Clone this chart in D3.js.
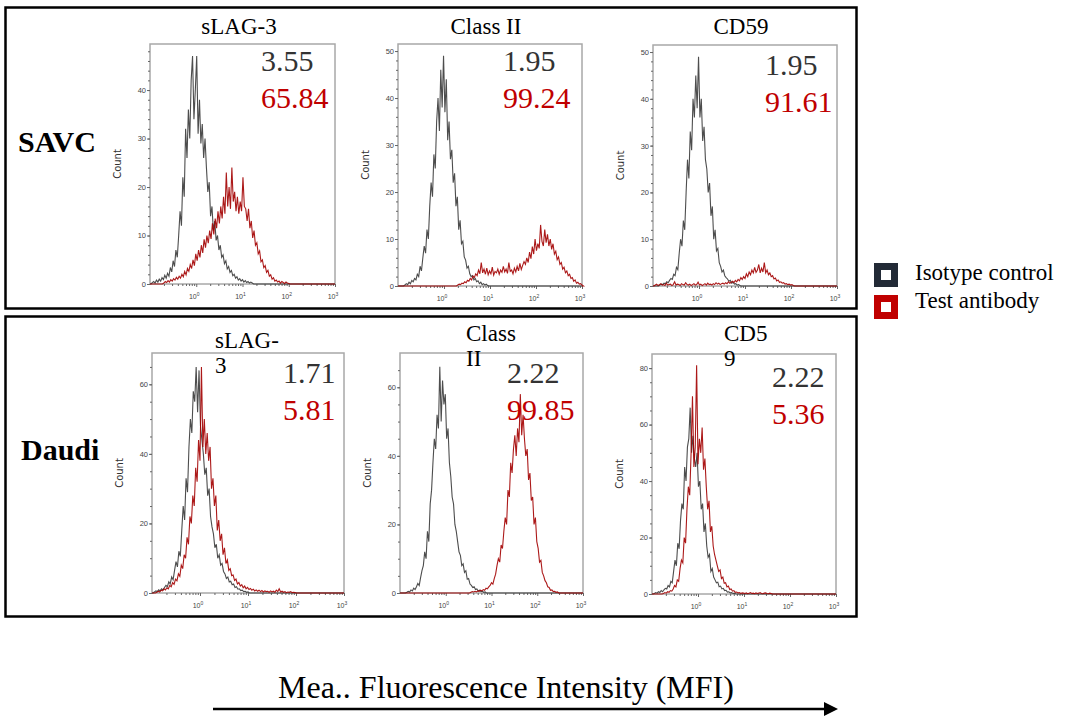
<!DOCTYPE html>
<html lang="en">
<head>
<meta charset="UTF-8">
<title>Flow cytometry histograms</title>
<script src="https://d3js.org/d3.v7.min.js"></script>
<style>
  body, html { margin: 0; padding: 0; background: #fff; overflow: hidden; }
  svg { display: block; }
  .serif { font-family: "Liberation Serif", "Times New Roman", serif; }
  .tick text { font-family: "Liberation Sans", Arial, sans-serif; font-size: 7.5px; fill: #444; }
  .tick line { stroke: #666; }
  .domain { display: none; }
</style>
</head>
<body>
<svg id="chart" width="1066" height="719"></svg>
<script>
// ---- data ----
const cellLines = ["SAVC", "Daudi"];
const markers = ["sLAG-3", "Class II", "CD59"];
const isoValues = ["3.55", "1.95", "1.95", "1.71", "2.22", "2.22"];
const testValues = ["65.84", "99.24", "91.61", "5.81", "99.85", "5.36"];
const legendLabels = ["Isotype control", "Test antibody"];
const xTickExps = [0, 1, 2, 3];
const yMax = [49.5, 51.5, 51.5, 69, 70, 85];
const yMajorStep = [10, 10, 10, 20, 20, 20];
const yMinorStep = [2, 2, 2, 5, 5, 5];

// channel width in decades of fluorescence (log10)
const STEP = 0.03;
// first channel (log10 MFI) of each histogram
const isoStart = [-0.95, -0.85, -0.85, -0.95, -0.85, -0.95];
const testStart = [-0.70, 0.30, -0.95, -0.90, 0.55, -0.75];

const isoCounts = [
  [0.3,0.5,0.2,0.8,0.4,1.0,0.6,1.3,0.9,1.8,1.2, 2.2,1.6,3.4,2.5,4.8,3.6,7.0,5.5, 10,15,12,22,18,
   32,26,36,30,42, 47,34,40,47,31, 38,29,33,26,30, 24,19,21,14,16, 11,13,9,10,7, 8,5.5,6,4.2,4.8,
   3.1,3.6,2.4,2.8,1.7, 2.0,1.2,1.5,0.8,1.1, 0.6,0.9,0.4,0.7,0.3,0.5,0.2,0.4,0.2],
  [0.2,0.5,0.3,0.8,0.5,1.2,0.9, 1.6,1.3,2.5,2.0,4.2,3.2,6.0, 8.5,7.0,12,10,17, 22,19,28,25,35,
   40,33,46,38,49, 37,44,31,35,27, 29,22,24,17,19, 12,14,9,9.5,6.2, 5.5,3.8,4.2,2.6,2.0,
   2.2,1.3,1.6,0.9,1.1, 0.5,0.8,0.3,0.5,0.2,0.4,0.1],
  [0.2,0.4,0.3,0.6,0.5,0.9,0.7, 1.2,1.6,1.4,2.5,2.2,4.0,3.5, 7.0,10,8.5,14,12, 20,27,23,33,29,
   40,36,45,38,49, 36,40,31,34,27, 25,20,22,15,17, 10,12,7.5,8,5, 4.2,3,3.4,2.2,1.8,
   1.5,1.0,1.2,0.6,0.8, 0.4,0.5,0.2,0.3,0.1],
  [0.3,0.6,0.4,0.9,0.6,1.2,0.9, 1.6,2.2,1.8,3.2,2.6,4.6,3.8, 6.5,9.0,7.5,12,10.5, 18,25,21,33,29,
   42,50,46,58,55, 65,52,64,48,44, 40,34,36,28,30, 22,19,17,13,14, 10,11,8,8.5,6.2,
   5.5,4.2,4.6,3.2,3.4, 2.4,2.6,1.6,1.8,1.1, 1.2,0.7,0.8,0.4,0.5,0.2,0.3],
  [0.2,0.5,0.3,0.9,0.6,1.4,1.0, 1.8,2.8,2.2,4.5,6.5, 8,12,10,18,15, 26,30,38,45,42,
   52,48,66,50,62, 55,58,45,48,38, 34,28,26,20,18, 15,12,11,8,8.5, 6,6.5,4,4.2,2.6,
   2.2,1.6,1.8,1.0,1.2, 0.6,0.8,0.4,0.5,0.2,0.3],
  [0.2,0.5,0.3,0.8,0.5,1.2,0.8, 1.5,2.0,1.8,3.0,2.5,4.5,4.0, 8,12,10,18,16, 26,32,30,45,40,
   52,55,66,50,56, 48,45,50,38,40, 30,32,22,25,17, 13,14,8,9,6, 5,4,4.2,2.6,2.8,
   1.8,2,1.2,1.3,0.7, 0.8,0.4,0.5,0.2,0.3,0.1]
];

const testCounts = [
  [0.2,0.5,0.3,0.7,0.4,0.9,0.6,1.1,0.8,1.4,1.0, 1.6,1.2,2.0,1.5,2.6,1.9,3.2, 2.6,4.0,3.2,5.0,3.8,6.2,4.8,
   7.0,5.5,8.0,6.4,9.2,7.5,10, 8.4,11,9.3,12.5,10.2,13.5,11.5, 15,12.5,16,13.5,18,14.5,23,
   16,20,15.5,24,17,19,15, 18,14.5,17,15,22,16,15.5, 13,15.5,11.5,13,9.5,11,8,
   8.5,6.2,6.8,4.6,5.0,3.4,3.8, 2.4,2.8,1.6,1.9,1.0,1.3,0.6, 0.8,0.4,0.6,0.2,0.5,0.3,0.1,0.4,0.2,0.1],
  [0.2,0.4,0.3,0.6,0.5,0.9,0.7, 1.2,1.0,1.6,1.3,2.1,1.8,2.6, 2.2,3.4,2.6,5.0,2.8,3.6,2.5,
   3.8,2.4,3.2,2.6,4.0,2.3,3.1, 2.8,3.6,2.5,3.4,2.9,4.2,3.0, 3.6,2.7,5.0,3.1,3.4,2.6,3.8,
   3.0,4.2,3.2,4.8,3.5,4.4,5.2, 4.6,6.0,5.0,7.2,5.8,8.4,6.8, 10,7.5,9.0,8.0,13,9.5,8.5,
   12,9.2,11,8.5,10,7.8,9.0, 6.8,7.4,5.6,6.2,4.6,5.0,3.6, 4.0,2.8,3.2,2.2,2.5,1.6,1.8,
   1.0,1.3,0.6,0.8,0.4,0.5,0.2],
  [0.2,0.4,0.1,0.3,0.5,0.2,0.3,0.1,0.6,0.2,0.3,0.4,0.1,0.3,0.9,0.2,0.4,0.3,0.1,0.5,0.3,0.2,0.7,0.3,0.2,
   0.4,0.1,0.3,0.5,0.2,0.3,0.8,0.2,0.4,0.1,0.3,0.5,0.2,0.6,0.3,0.4,0.2,0.5,0.3,0.7,0.4,0.6,0.3,0.5,0.6,
   0.4,0.7,0.5,0.9,0.6,0.8,1.0, 0.7,1.2,0.9,1.4,1.1,1.8,1.4, 2.0,1.6,2.6,2.0,3.0,2.4,3.4,
   2.8,4.0,2.9,3.4,4.6,2.8,3.8, 3.0,5.0,2.8,3.4,2.4,2.8,2.0, 2.2,1.5,1.7,1.1,1.3,0.8,0.9,
   0.6,0.7,0.4,0.5,0.3,0.4,0.2,0.3,0.1],
  [0.2,0.5,0.3,0.8,0.6,1.2,0.9, 1.5,1.2,2.2,1.8,3.0,2.5,4.0, 3.5,5.5,4.8,8.0,7.0, 11,10,16,14,22,
   20,28,25,36,32, 44,38,65,42,50, 40,46,38,42,30, 33,25,28,18,21, 15,17,11,13,8.5,
   9.5,6.5,7,5,5.2, 3.6,4.0,2.6,3.0,2.0, 2.4,1.5,2.0,1.2,1.6,1.0,1.3, 0.8,1.1,0.6,0.9,0.5,0.8,0.4,
   0.7,0.3,0.6,0.4,0.5,0.2,0.6, 0.3,0.5,0.2,0.8,0.4,1.2,0.3, 0.5,0.2,0.4,0.1,0.3,0.2,0.4,0.1,0.2,0.1],
  [0.2,0.4,0.3,0.5,0.3,0.6,0.5, 0.8,0.6,1.0,0.8,1.4,1.2,1.8, 2.2,3.0,2.6,4.2,5.5, 8,10,9,14,13,
   18,22,20,30,28, 38,35,42,46,40, 48,44,58,46,52, 45,40,42,33,35, 27,28,20,22,15,
   13,9,9.5,6,5, 3.6,3,1.8,1.6,0.8, 0.9,0.4,0.5,0.2,0.3],
  [0.2,0.5,0.3,0.8,0.6,1.2,1.0, 1.8,3,2.5,5,4.5, 9,12,11,20,18, 30,38,35,50,70,
   45,52,81,46,55, 50,59,44,48,38, 30,33,22,24,17, 14,12,10,8,8.5, 5.5,6,3.8,4,2.5,
   2.8,1.6,1.8,1,1.2, 0.6,0.7,0.4,0.5,0.2,0.4,0.3,
   0.2,0.4,0.1,0.3,0.5,0.2,0.3,0.1,0.4,0.2,0.3,0.5,0.2,0.1,0.3,0.4,0.2,0.1,0.3,0.2]
];

// ---- layout ----
const panels = [
  { x0: 150, x1: 335, y0: 44, y1: 284 },
  { x0: 398, x1: 582, y0: 44, y1: 286 },
  { x0: 653, x1: 837, y0: 45, y1: 286 },
  { x0: 152, x1: 344, y0: 353, y1: 593 },
  { x0: 400, x1: 583, y0: 353, y1: 593 },
  { x0: 652, x1: 836, y0: 354, y1: 594 }
];
const numPos = [[261, 71], [503, 71], [765, 75], [283, 383], [507, 383], [772, 387]];
const GRAY = "#3a3a3a", RED = "#a30000";
const SERIF = "'Liberation Serif', 'Times New Roman', serif";

const svg = d3.select("#chart");

// outer boxes
svg.append("rect").attr("x", 5.5).attr("y", 7.5).attr("width", 851).attr("height", 301)
  .attr("fill", "none").attr("stroke", "#000").attr("stroke-width", 2.5);
svg.append("rect").attr("x", 5.5).attr("y", 316.5).attr("width", 851).attr("height", 300)
  .attr("fill", "none").attr("stroke", "#000").attr("stroke-width", 2.5);

function histPoints(start, counts) {
  const pts = [[0.1, 0], [Math.pow(10, start - STEP), 0]];
  counts.forEach((c, i) => pts.push([Math.pow(10, start + i * STEP), c]));
  pts.push([Math.pow(10, start + counts.length * STEP), 0], [1000, 0]);
  return pts;
}

panels.forEach((p, i) => {
  const g = svg.append("g");
  const x = d3.scaleLog().domain([0.1, 1000]).range([p.x0, p.x1]);
  const y = d3.scaleLinear().domain([0, yMax[i]]).range([p.y1, p.y0]);

  // frame
  g.append("rect").attr("x", p.x0).attr("y", p.y0)
    .attr("width", p.x1 - p.x0).attr("height", p.y1 - p.y0)
    .attr("fill", "none").attr("stroke", "#a8a8a8").attr("stroke-width", 1.5);

  // y axis: minor + major ticks
  g.append("g").attr("transform", `translate(${p.x0},0)`)
    .call(d3.axisLeft(y).tickValues(d3.range(0, yMax[i], yMinorStep[i])).tickSize(2).tickFormat(""));
  g.append("g").attr("transform", `translate(${p.x0},0)`)
    .call(d3.axisLeft(y).tickValues(d3.range(0, yMax[i], yMajorStep[i])).tickSize(3).tickPadding(1));

  // x axis: log minor + decades
  const minor = [];
  [-1, 0, 1, 2].forEach(e => d3.range(2, 10).forEach(m => minor.push(m * Math.pow(10, e))));
  g.append("g").attr("transform", `translate(0,${p.y1})`)
    .call(d3.axisBottom(x).tickValues(minor).tickSize(2).tickFormat(""));
  g.append("g").attr("transform", `translate(0,${p.y1})`)
    .call(d3.axisBottom(x).tickValues(xTickExps.map(e => Math.pow(10, e))).tickSize(3).tickFormat(""));
  const xl = g.selectAll(".xlab").data(xTickExps).enter().append("text")
    .attr("x", e => x(Math.pow(10, e)) - 2).attr("y", p.y1 + 15)
    .attr("text-anchor", "middle")
    .style("font-family", "Liberation Sans, Arial, sans-serif").style("font-size", "7px").attr("fill", "#444");
  xl.append("tspan").text("10");
  xl.append("tspan").attr("dy", -3).style("font-size", "5px").text(e => e);

  // Count label
  g.append("text")
    .attr("transform", `translate(${p.x0 - 29},${(p.y0 + p.y1) / 2}) rotate(-90)`)
    .attr("text-anchor", "middle")
    .style("font-family", "DejaVu Sans, sans-serif").style("font-size", "10px").attr("fill", "#333")
    .text("Count");

  const line = d3.line().x(d => x(d[0])).y(d => y(d[1]));
  g.append("path").attr("d", line(histPoints(isoStart[i], isoCounts[i])))
    .attr("fill", "none").attr("stroke", GRAY).attr("stroke-width", 1.1).attr("stroke-opacity", 0.9);
  g.append("path").attr("d", line(histPoints(testStart[i], testCounts[i])))
    .attr("fill", "none").attr("stroke", RED).attr("stroke-width", 1.1).attr("stroke-opacity", 0.9);

  // percentages
  g.append("text").attr("x", numPos[i][0]).attr("y", numPos[i][1])
    .style("font-family", SERIF).style("font-size", "30px").attr("fill", "#333").text(isoValues[i]);
  g.append("text").attr("x", numPos[i][0]).attr("y", numPos[i][1] + 37)
    .style("font-family", SERIF).style("font-size", "30px").attr("fill", "#c00000").text(testValues[i]);
});

// marker titles: top row on one line, bottom row wrapped
const topTitleX = [239, 486, 741];
markers.forEach((m, j) => {
  svg.append("text").attr("x", topTitleX[j]).attr("y", 34)
    .attr("text-anchor", "middle").style("font-family", SERIF).style("font-size", "23px").text(m);
});
const wrapped = [["sLAG-", "3"], ["Class", "II"], ["CD5", "9"]];
const wrapX = [215, 466, 724];
const wrapY = [348, 341, 341];
wrapped.forEach((w, j) => {
  const t = svg.append("text").style("font-family", SERIF).style("font-size", "23px");
  t.append("tspan").attr("x", wrapX[j]).attr("y", wrapY[j]).text(w[0]);
  t.append("tspan").attr("x", wrapX[j]).attr("y", wrapY[j] + 25).text(w[1]);
});

// row labels
svg.selectAll(".rowlab").data(cellLines).enter().append("text")
  .attr("x", (d, i) => i ? 21 : 18).attr("y", (d, i) => i ? 460 : 152)
  .style("font-family", SERIF).style("font-size", "30px").style("font-weight", "bold").text(d => d);

// legend
const legColors = ["#222a36", "#c00000"];
legendLabels.forEach((l, i) => {
  svg.append("rect").attr("x", 877.5).attr("y", 266.5 + i * 32).attr("width", 17).attr("height", 17)
    .attr("fill", "#fff").attr("stroke", legColors[i]).attr("stroke-width", 7);
  svg.append("text").attr("x", 915).attr("y", 280 + i * 28)
    .style("font-family", SERIF).style("font-size", "23px").text(l);
});

// x title + arrow
svg.append("text").attr("x", 278).attr("y", 698)
  .style("font-family", SERIF).style("font-size", "32px").text("Mea.. Fluorescence Intensity (MFI)");
svg.append("line").attr("x1", 213).attr("x2", 826).attr("y1", 709).attr("y2", 709)
  .attr("stroke", "#000").attr("stroke-width", 2.5);
svg.append("path").attr("d", "M824,702 L838,709 L824,716 Z").attr("fill", "#000");
</script>
</body>
</html>
